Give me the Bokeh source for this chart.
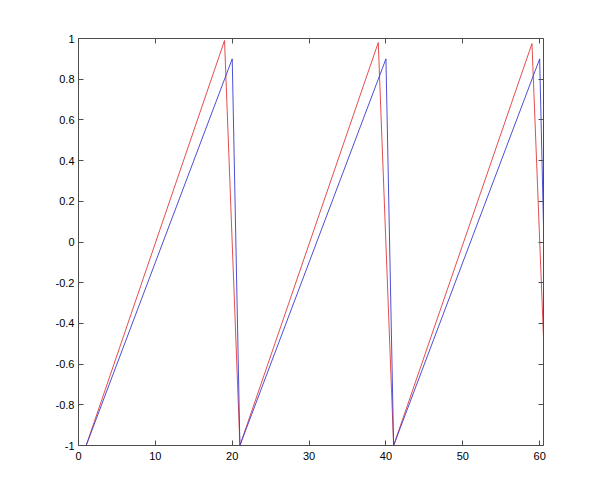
from bokeh.plotting import figure
from bokeh.models import LinearAxis, FixedTicker, Range1d, CustomJSTickFormatter
from bokeh.embed import file_html
from bokeh.resources import INLINE

# data
blue_x = [1, 20, 21, 40, 41, 60, 60.5]
blue_y = [-1.0, 0.9, -1.0, 0.9, -1.0, 0.9, 0.08]

red_x = [1, 19, 21, 39, 41, 59, 60.5]
red_y = [-1.0, 0.99, -1.0, 0.98, -1.0, 0.975, -0.47]

x_ticks = [0, 10, 20, 30, 40, 50, 60]
x_tick_labels = ["0", "10", "20", "30", "40", "50", "60"]
y_ticks = [-1.0, -0.8, -0.6, -0.4, -0.2, 0.0, 0.2, 0.4, 0.6, 0.8, 1.0]
y_tick_labels = ["-1", "-0.8", "-0.6", "-0.4", "-0.2", "0", "0.2", "0.4", "0.6", "0.8", "1"]

FONT = "Liberation Sans"
AX_COLOR = "#4d4d4d"

p = figure(width=584, height=484, output_backend="svg", toolbar_location=None,
           x_range=Range1d(0, 60.5), y_range=Range1d(-1, 1),
           x_axis_location=None, y_axis_location=None,
           min_border_left=78, min_border_right=41, min_border_top=38, min_border_bottom=39)
p.grid.visible = False
p.outline_line_color = None
p.background_fill_color = "white"
p.border_fill_color = "white"


def style(ax, ticks, overrides=None, blank=False):
    ax.ticker = FixedTicker(ticks=ticks)
    ax.axis_line_color = AX_COLOR
    ax.major_tick_line_color = AX_COLOR
    ax.major_tick_in = 5
    ax.major_tick_out = 0
    ax.minor_tick_line_color = None
    ax.major_label_text_font = FONT
    ax.major_label_text_font_size = "11px"
    ax.major_label_text_color = "black"
    if blank:
        ax.formatter = CustomJSTickFormatter(code="return ''")
    elif overrides:
        ax.major_label_overrides = overrides


bottom = LinearAxis()
style(bottom, x_ticks, dict(zip(x_ticks, x_tick_labels)))
bottom.major_label_standoff = 6
p.add_layout(bottom, "below")

left = LinearAxis()
style(left, y_ticks, dict(zip(y_ticks, y_tick_labels)))
left.major_label_standoff = 4
p.add_layout(left, "left")

top = LinearAxis()
style(top, x_ticks, blank=True)
top.major_label_standoff = 0
p.add_layout(top, "above")

right = LinearAxis()
style(right, y_ticks, blank=True)
right.major_label_standoff = 0
p.add_layout(right, "right")

p.line(red_x, red_y, line_color="#e03a3a", line_width=0.9)
p.line(blue_x, blue_y, line_color="#3a3ad0", line_width=0.9)

open("out.html", "w").write(file_html(p, INLINE))
